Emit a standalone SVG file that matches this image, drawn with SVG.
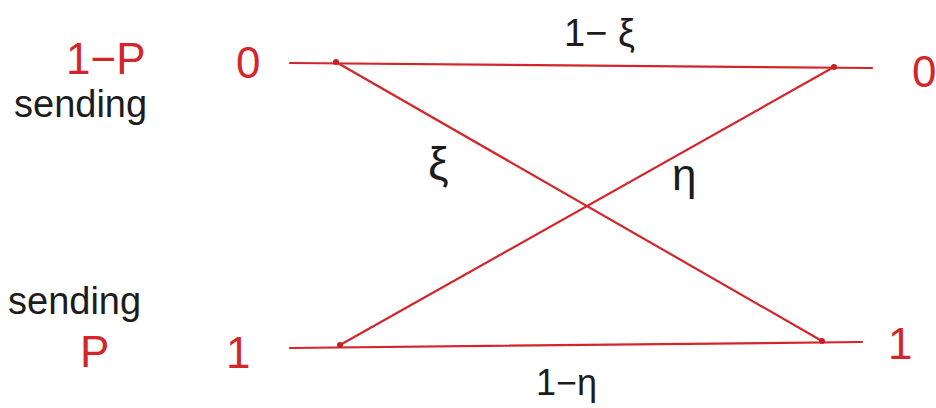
<svg xmlns="http://www.w3.org/2000/svg" width="936" height="408" viewBox="0 0 936 408">
<style>
.red{fill:#d3262b;font-family:"Liberation Sans",Arial,sans-serif;font-size:44px}
.blk{fill:#1c1c1c;font-family:"Liberation Sans",Arial,sans-serif;font-size:38px}
.ln{stroke:#d3262b;stroke-width:2.2;fill:none;stroke-linecap:round}
.dot{fill:#c81e24}
</style>
<rect width="936" height="408" fill="#ffffff"/>
<g id="in0">
<text class="red" x="66" y="74">1−P</text>
<text class="red" x="236" y="78">0</text>
<text class="blk" x="14" y="117">sending</text>
</g>
<g id="in1">
<text class="blk" x="8" y="314">sending</text>
<text class="red" x="80" y="367">P</text>
<text class="red" x="226" y="368">1</text>
</g>
<g id="out0">
<text class="red" x="912" y="87">0</text>
</g>
<g id="out1">
<text class="red" x="888" y="359">1</text>
</g>
<g id="connectors">
<line class="ln" x1="290" y1="63" x2="872" y2="68"/>
<line class="ln" x1="290" y1="348" x2="862" y2="342"/>
<line class="ln" x1="336" y1="62" x2="822" y2="341"/>
<line class="ln" x1="340" y1="345" x2="834" y2="67"/>
<circle class="dot" cx="336" cy="62" r="3"/>
<circle class="dot" cx="834" cy="67" r="3"/>
<circle class="dot" cx="340" cy="345" r="3"/>
<circle class="dot" cx="822" cy="341" r="3"/>
<text class="blk" x="564" y="46">1− ξ</text>
<text class="blk" x="428" y="180" style="font-size:46px">ξ</text>
<text class="blk" x="672" y="190" style="font-size:44px">η</text>
<text class="blk" x="536" y="395" style="font-size:36px">1−η</text>
</g>
</svg>
